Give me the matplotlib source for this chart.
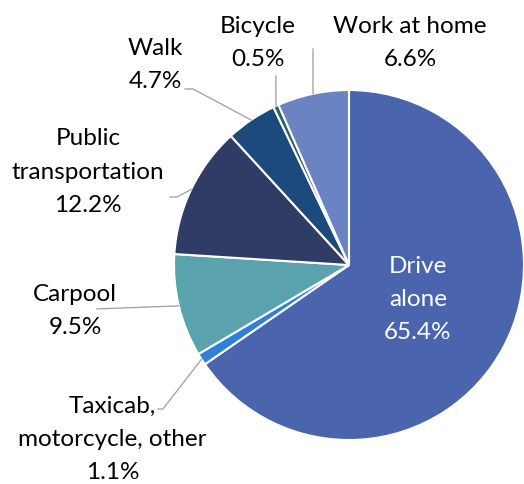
import matplotlib.pyplot as plt
import numpy as np

labels = ['Drive\nalone', 'Taxicab,\nmotorcycle, other', 'Carpool',
          'Public\ntransportation', 'Walk', 'Bicycle', 'Work at home']
shares = [65.4, 1.1, 9.5, 12.2, 4.7, 0.5, 6.6]
colors = ['#4a65ae', '#2e80d8', '#5aa2ac', '#2e3c66', '#1d4a7c', '#2e5e66', '#6b84c1']

# label centres (data units, pie radius = 1) and leader start/elbow points
label_pos = [(0.394, -0.19), (-1.351, -0.99), (-1.566, -0.255),
             (-1.491, 0.537), (-1.109, 1.149), (-0.52, 1.274), (0.349, 1.274)]
leader_pts = [None,
              [(-1.091, -0.823), (-1.063, -0.823)],
              [(-1.44, -0.251)],
              [(-1.023, 0.389), (-0.983, 0.389)],
              [(-0.937, 1.006), (-0.891, 1.006)],
              [(-0.418, 1.08)],
              [(-0.206, 1.234)]]

plt.rcParams['font.family'] = ['Lato', 'DejaVu Sans']

fig = plt.figure(figsize=(5.24, 4.85), dpi=100)
ax = fig.add_axes([0.332, 0.0907, 0.668, 0.7216])
ax.pie(shares, colors=colors, startangle=90, counterclock=False,
       wedgeprops=dict(edgecolor='white', linewidth=1.5))
ax.set_xlim(-1, 1)
ax.set_ylim(-1, 1)
ax.set_aspect('equal')
ax.axis('off')

cum = np.cumsum(shares) - np.array(shares) / 2
for i, (lab, val) in enumerate(zip(labels, shares)):
    x, y = label_pos[i]
    txt = f'{lab}\n{val}%'
    col = 'white' if i == 0 else 'black'
    ax.text(x, y, txt, ha='center', va='center', fontsize=17.5,
            color=col, linespacing=1.72, clip_on=False)
    if leader_pts[i] is not None:
        ang = np.deg2rad(90 - cum[i] / 100 * 360)
        pts = leader_pts[i] + [(np.cos(ang), np.sin(ang))]
        xs, ys = zip(*pts)
        ax.plot(xs, ys, color='#a6a6a6', lw=1, clip_on=False)

plt.savefig('out.png', dpi=100)
